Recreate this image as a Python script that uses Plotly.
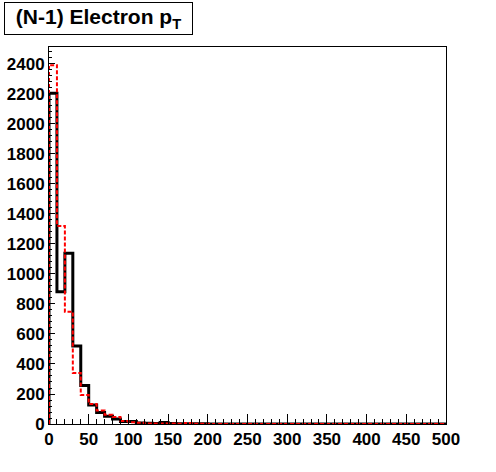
import plotly.graph_objects as go

# Bin edges: 50 bins of width 10 from 0 to 500
bin_low = 0
bin_width = 10
n_bins = 50

black_counts = [2205, 882, 1138, 520, 256, 127, 77, 51, 33, 16, 16, 6, 5, 3, 10, 3, 2, 1, 1, 1,
                0, 0, 0, 0, 0, 0, 0, 0, 0, 0, 0, 0, 0, 0, 0, 0, 0, 0, 0, 0,
                0, 0, 0, 0, 0, 0, 0, 0, 0, 0]
red_counts = [2392, 1320, 748, 340, 193, 133, 90, 62, 47, 20, 12, 9, 4, 3, 3, 3, 2, 6, 1, 1,
              0, 0, 0, 0, 0, 0, 0, 0, 0, 0, 0, 0, 0, 0, 0, 0, 0, 0, 0, 0,
              0, 0, 0, 0, 0, 0, 0, 0, 0, 0]

x_ticks = [0, 50, 100, 150, 200, 250, 300, 350, 400, 450, 500]
y_ticks = [0, 200, 400, 600, 800, 1000, 1200, 1400, 1600, 1800, 2000, 2200, 2400]

edges = [bin_low + i * bin_width for i in range(n_bins + 1)]


def step_xy(counts):
    xs = [edges[0]] + edges
    ys = [0] + list(counts) + [counts[-1]]
    return xs, ys


fig = go.Figure()
bx, by = step_xy(black_counts)
rx, ry = step_xy(red_counts)
fig.add_trace(go.Scatter(x=bx, y=by, mode="lines", line=dict(color="black", width=3, shape="hv"),
                         showlegend=False, hoverinfo="skip", cliponaxis=False))
fig.add_trace(go.Scatter(x=rx, y=ry, mode="lines",
                         line=dict(color="#ff0000", width=2, shape="hv", dash="4px,2px"),
                         showlegend=False, hoverinfo="skip", cliponaxis=False))

tickfont = dict(family="Liberation Sans, Arial, sans-serif", size=17, color="black", weight="bold")

fig.update_layout(
    width=496, height=472,
    margin=dict(l=49, r=50, t=47, b=48, autoexpand=False),
    paper_bgcolor="white", plot_bgcolor="white",
    xaxis=dict(range=[0, 500], tickvals=x_ticks, ticktext=[str(v) for v in x_ticks],
               ticks="inside", ticklen=10, tickwidth=1, tickcolor="black",
               minor=dict(dtick=10, ticks="inside", ticklen=5, tickwidth=1, tickcolor="black"),
               showgrid=False, zeroline=False, showline=True, linecolor="black", linewidth=1,
               mirror=True, tickfont=tickfont, automargin=False),
    yaxis=dict(range=[0, 2513], tickvals=y_ticks, ticktext=[str(v) for v in y_ticks],
               ticks="inside", ticklen=6, tickwidth=1, tickcolor="black",
               minor=dict(dtick=40, ticks="inside", ticklen=3, tickwidth=1, tickcolor="black"),
               showgrid=False, zeroline=False, showline=True, linecolor="black", linewidth=1,
               mirror=True, tickfont=tickfont, automargin=False),
    annotations=[dict(
        text="(N-1) Electron p<sub>T</sub>",
        xref="paper", yref="paper", x=(4 - 49) / 397, y=1 + (47 - 2) / 377,
        xanchor="left", yanchor="top", showarrow=False,
        width=187, height=31, align="center", valign="middle",
        bordercolor="black", borderwidth=1, borderpad=0, bgcolor="white",
        font=dict(family="Liberation Sans, Arial, sans-serif", size=21, color="black", weight="bold"),
    )],
)

fig.write_html("out.html", config={"displayModeBar": False},
               post_script="document.body.style.margin='0';document.body.style.padding='0';")
